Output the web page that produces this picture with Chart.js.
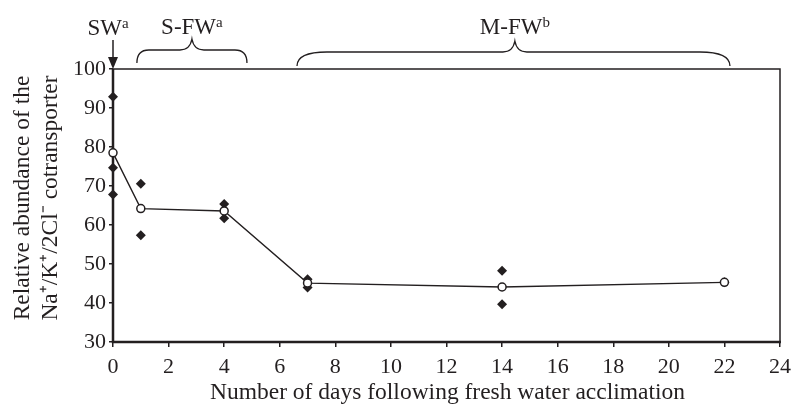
<!DOCTYPE html>
<html><head><meta charset="utf-8">
<script src="https://cdn.jsdelivr.net/npm/chart.js@4"></script>
<style>html,body{margin:0;padding:0;background:#fff}#wrap{width:800px;height:407px}</style>
</head><body><div id="wrap"><canvas id="c" width="800" height="407"></canvas></div>
<script>
const days = [0, 1, 4, 7, 14, 22];
const means = [78.5, 64.2, 63.6, 45.1, 44.1, 45.3];
const indivDays = [0, 0, 0, 1, 1, 4, 4, 7, 7, 14, 14, 22];
const indivValues = [92.9, 74.7, 67.8, 70.6, 57.4, 65.4, 61.7, 46.1, 44.0, 48.3, 39.7, 45.3];
const xTicks = [0, 2, 4, 6, 8, 10, 12, 14, 16, 18, 20, 22, 24];
const yTicks = [30, 40, 50, 60, 70, 80, 90, 100];
const xTitle = 'Number of days following fresh water acclimation';
const yTitleLines = ['Relative abundance of the', 'Na\u207A/K\u207A/2Cl\u207B cotransporter'];
const groups = [
  {label: 'SW', sup: 'a', arrowAt: 0},
  {label: 'S-FW', sup: 'a', from: 0.86, to: 4.82, tip: 2.84},
  {label: 'M-FW', sup: 'b', from: 6.62, to: 22.2, tip: 14.46}
];

const FONT = '"Liberation Serif", "Times New Roman", serif';
const INK = '#231f20';

const deco = {
  id: 'deco',
  beforeDatasetsDraw(chart) {
    const {ctx, chartArea: a} = chart;
    ctx.save();
    ctx.strokeStyle = INK;
    ctx.lineWidth = 1.5;
    ctx.strokeRect(a.left, a.top, a.right - a.left, a.bottom - a.top);
    ctx.lineWidth = 2.5;
    ctx.beginPath();
    ctx.moveTo(a.left, a.top); ctx.lineTo(a.left, a.bottom); ctx.lineTo(a.right + 1, a.bottom);
    ctx.stroke();
    ctx.restore();
  },
  afterDraw(chart) {
    const {ctx, chartArea: a} = chart;
    const xs = chart.scales.x;
    ctx.save();
    ctx.strokeStyle = INK; ctx.fillStyle = INK;

    function label(text, sup, cx, baseline) {
      ctx.font = '23px ' + FONT;
      const w1 = ctx.measureText(text).width;
      ctx.font = '15px ' + FONT;
      const w2 = ctx.measureText(sup).width;
      const x0 = cx - (w1 + w2) / 2;
      ctx.textAlign = 'left'; ctx.textBaseline = 'alphabetic';
      ctx.font = '23px ' + FONT;
      ctx.fillText(text, x0, baseline);
      ctx.font = '15px ' + FONT;
      ctx.fillText(sup, x0 + w1, baseline - 7);
    }
    function brace(x1, x2, xm, yb, ym, yt, r) {
      ctx.lineWidth = 1.3;
      ctx.beginPath();
      ctx.moveTo(x1, yb);
      ctx.quadraticCurveTo(x1, ym, x1 + r, ym);
      ctx.lineTo(xm - 12, ym);
      ctx.quadraticCurveTo(xm - 2, ym, xm, yt);
      ctx.quadraticCurveTo(xm + 2, ym, xm + 12, ym);
      ctx.lineTo(x2 - r, ym);
      ctx.quadraticCurveTo(x2, ym, x2, yb);
      ctx.stroke();
    }
    groups.forEach((g) => {
      if (g.arrowAt !== undefined) {
        const x = xs.getPixelForValue(g.arrowAt);
        ctx.lineWidth = 1.5;
        ctx.beginPath(); ctx.moveTo(x, 40); ctx.lineTo(x, 60); ctx.stroke();
        ctx.beginPath(); ctx.moveTo(x - 5, 57); ctx.lineTo(x + 5, 57); ctx.lineTo(x, a.top); ctx.closePath(); ctx.fill();
        label(g.label, g.sup, x - 5, 35);
      } else {
        const x1 = xs.getPixelForValue(g.from), x2 = xs.getPixelForValue(g.to), xm = xs.getPixelForValue(g.tip);
        const big = (g.to - g.from) > 8;
        const yb = big ? 66 : 63, ym = big ? 52 : 50, yt = big ? 41 : 39;
        brace(x1, x2, xm, yb, ym, yt, big ? 30 : 12);
        label(g.label, g.sup, xm, 34);
      }
    });
    // axis titles
    ctx.font = '23.5px ' + FONT;
    ctx.textAlign = 'center'; ctx.textBaseline = 'middle';
    ctx.fillText(xTitle, (a.left + a.right) / 2 + 1, 393);
    ctx.save();
    ctx.translate(23, 198);
    ctx.rotate(-Math.PI / 2);
    ctx.fillText(yTitleLines[0], 0, 0);
    ctx.fillText(yTitleLines[1], 0, 28);
    ctx.restore();
    ctx.restore();
  }
};

new Chart(document.getElementById('c'), {
  type: 'scatter',
  data: {
    datasets: [
      {
        label: 'Mean',
        data: days.map((d, i) => ({x: d, y: means[i]})),
        showLine: true,
        clip: false,
        borderColor: INK,
        borderWidth: 1.4,
        pointStyle: 'circle',
        pointRadius: 4,
        pointBorderWidth: 1.5,
        pointBackgroundColor: '#ffffff',
        pointBorderColor: INK,
        order: 0
      },
      {
        label: 'Individual',
        data: indivDays.map((d, i) => ({x: d, y: indivValues[i]})),
        showLine: false,
        clip: false,
        pointStyle: 'rectRot',
        pointRadius: 5,
        pointBorderWidth: 0,
        pointBackgroundColor: INK,
        pointBorderColor: INK,
        order: 1
      }
    ]
  },
  options: {
    responsive: false,
    animation: false,
    devicePixelRatio: 1,
    layout: {padding: {left: 0, right: 20, top: 69, bottom: 0}},
    plugins: {legend: {display: false}, tooltip: {enabled: false}},
    scales: {
      x: {
        type: 'linear', min: 0, max: 24,
        afterBuildTicks: (s) => { s.ticks = xTicks.map(v => ({value: v})); },
        afterFit: (s) => { s.height = 65; },
        grid: {display: true, drawOnChartArea: false, drawTicks: true, tickLength: 5, color: INK, lineWidth: 1.5},
        border: {display: false},
        ticks: {color: INK, font: {family: FONT, size: 22}, padding: 7, maxRotation: 0}
      },
      y: {
        type: 'linear', min: 30, max: 100,
        afterBuildTicks: (s) => { s.ticks = yTicks.map(v => ({value: v})); },
        afterFit: (s) => { s.width = 113; },
        grid: {display: true, drawOnChartArea: false, drawTicks: true, tickLength: 4, color: INK, lineWidth: 1.5},
        border: {display: false},
        ticks: {color: INK, font: {family: FONT, size: 22}, padding: 3}
      }
    }
  },
  plugins: [deco]
});
</script>
</body></html>
